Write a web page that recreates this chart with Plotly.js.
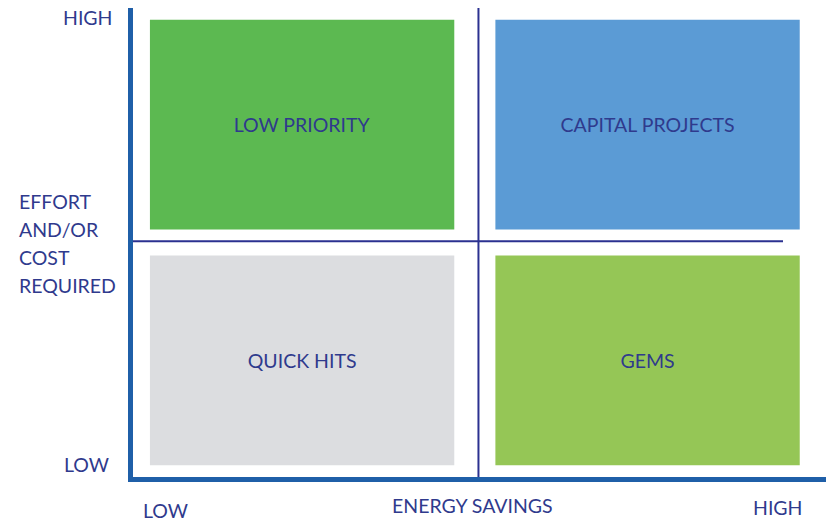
<!DOCTYPE html>
<html>
<head>
<meta charset="utf-8">
<script src="https://cdn.plot.ly/plotly-3.0.1.min.js"></script>
<style>html,body{margin:0;padding:0;background:#fff;}#chart{width:827px;height:518px;}</style>
</head>
<body>
<div id="chart"></div>
<script>
// ---- data ----
const quadrants = ['LOW PRIORITY', 'CAPITAL PROJECTS', 'QUICK HITS', 'GEMS'];
const savingsLevel = ['LOW', 'HIGH', 'LOW', 'HIGH'];   // x: energy savings
const effortLevel = ['HIGH', 'HIGH', 'LOW', 'LOW'];    // y: effort and/or cost
const levels = ['LOW', 'HIGH'];
const xTitle = 'ENERGY SAVINGS';
const yTitleLines = ['EFFORT', 'AND/OR', 'COST', 'REQUIRED'];

// ---- styles ----
const quadrantColors = ['#5cb951', '#5b9bd5', '#dcdde0', '#95c656'];
const textColor = '#2f3a8d';
const axisColor = '#1f5fa8';
const dividerColor = '#2b3190';
const FONT = 'Lato, "Open Sans", sans-serif';
const FS = 19.5;

const W = 827, H = 518;
const M = {l: 133, r: 1, t: 8, b: 41};
const plotW = W - M.l - M.r, plotH = H - M.t - M.b;
const px = x => (x - M.l) / plotW;
const py = y => (H - M.b - y) / plotH;

const idx = v => levels.indexOf(v);
const padX = 0.049, cellW = 0.881;
const padY = 0.05, cellH = 0.89;

const trace = {
  type: 'bar',
  x: savingsLevel.map(v => idx(v) + padX + cellW / 2),
  y: effortLevel.map(() => cellH),
  base: effortLevel.map(v => idx(v) + padY),
  width: savingsLevel.map(() => cellW),
  text: quadrants,
  textposition: 'inside',
  insidetextanchor: 'middle',
  textangle: 0,
  insidetextfont: {family: FONT, size: FS, color: textColor},
  marker: {color: quadrantColors, line: {width: 0}},
  hoverinfo: 'skip',
  showlegend: false
};

const ann = [];
const txt = (text, x, y, xanchor) => ann.push({
  text, xref: 'paper', yref: 'paper', x: px(x), y: py(y),
  xanchor, yanchor: 'middle', showarrow: false,
  font: {family: FONT, size: FS, color: textColor}
});
txt(levels[1], 114, 18, 'right');
txt(levels[0], 111, 464, 'right');
yTitleLines.forEach((t, i) => txt(t, 17, 201 + i * 28, 'left'));
txt(levels[0], 165, 510, 'center');
txt(xTitle, 472, 505, 'center');
txt(levels[1], 777.5, 507, 'center');

const layout = {
  width: W, height: H,
  margin: M,
  paper_bgcolor: '#ffffff', plot_bgcolor: '#ffffff',
  barmode: 'overlay',
  xaxis: {range: [0, 2.006], showgrid: false, zeroline: false, showticklabels: false, ticks: '',
          showline: true, linewidth: 5, linecolor: axisColor, fixedrange: true},
  yaxis: {range: [0, 1.99], showgrid: false, zeroline: false, showticklabels: false, ticks: '',
          showline: true, linewidth: 5, linecolor: axisColor, fixedrange: true},
  shapes: [
    {type: 'line', xref: 'x', yref: 'paper', x0: 1, x1: 1, y0: 0, y1: 1,
     line: {color: dividerColor, width: 2}, layer: 'above'},
    {type: 'line', xref: 'paper', yref: 'y', x0: 0, x1: px(783), y0: 1, y1: 1,
     line: {color: dividerColor, width: 2}, layer: 'above'}
  ],
  annotations: ann,
  showlegend: false
};

Plotly.newPlot('chart', [trace], layout, {displayModeBar: false, staticPlot: true});
</script>
</body>
</html>
